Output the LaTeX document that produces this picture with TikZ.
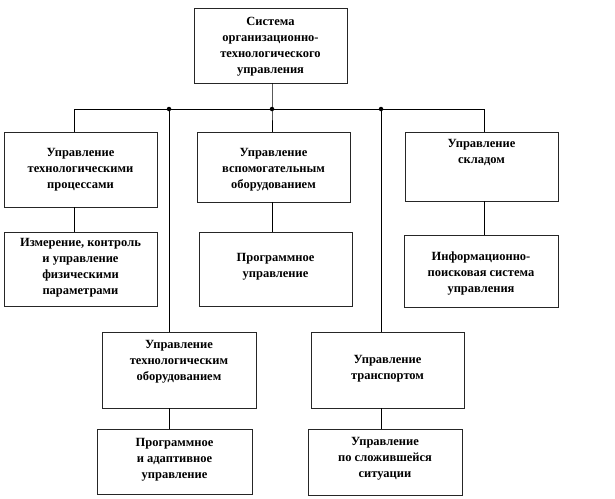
\documentclass[tikz,border=0pt]{standalone}
\usepackage{fontspec}
\setmainfont{Liberation Serif}
\tikzset{
  box/.style={draw=black!85, line width=0.8pt, inner sep=0pt, fill=white},
  txt/.style={font=\bfseries\fontsize{12.5}{16}\selectfont, align=center, inner sep=0pt},
  jdot/.style={circle, fill=black, inner sep=0pt, minimum size=4.5pt},
  conn/.style={draw=black, line width=0.8pt}
}
\begin{document}
\begin{tikzpicture}[x=1pt,y=-1pt]
\useasboundingbox (0,0) rectangle (615,498);
% boxes
\node[box, minimum width=153pt, minimum height=75pt] (top) at (270.5,45.5) {};
\node[box, minimum width=153pt, minimum height=75pt] (b1) at (80.5,169.5) {};
\node[box, minimum width=153pt, minimum height=70pt] (b2) at (273.5,167) {};
\node[box, minimum width=153pt, minimum height=69pt] (b3) at (481.5,166.5) {};
\node[box, minimum width=153pt, minimum height=74pt] (b4) at (80.5,269) {};
\node[box, minimum width=153pt, minimum height=74pt] (b5) at (275.5,269) {};
\node[box, minimum width=154pt, minimum height=72pt] (b6) at (481,271) {};
\node[box, minimum width=154pt, minimum height=76pt] (b7) at (179,370) {};
\node[box, minimum width=155pt, minimum height=65pt] (b8) at (174.5,461.5) {};
\node[box, minimum width=153pt, minimum height=76pt] (b9) at (387.5,370) {};
\node[box, minimum width=154pt, minimum height=66pt] (b10) at (385,462) {};
% texts
\node[txt] (ttop) at (270.5,47) {Система\\организационно-\\технологического\\управления};
\node[txt] (t1) at (80.5,169.5) {Управление\\технологическими\\процессами};
\node[txt] (t2) at (273.5,169.5) {Управление\\вспомогательным\\оборудованием};
\node[txt] (t3) at (481.5,152.5) {Управление\\складом};
\node[txt] (t4) at (80.5,268) {Измерение, контроль\\и управление\\физическими\\параметрами};
\node[txt] (t5) at (275.5,267) {Программное\\управление};
\node[txt] (t6) at (481,273.5) {Информационно-\\поисковая система\\управления};
\node[txt] (t7) at (179,362) {Управление\\технологическим\\оборудованием};
\node[txt] (t8) at (174.5,459.5) {Программное\\и адаптивное\\управление};
\node[txt] (t9) at (387.5,368.5) {Управление\\транспортом};
\node[txt] (t10) at (385,459) {Управление\\по сложившейся\\ситуации};
% bus
\coordinate (j1) at (74,109);
\coordinate (j2) at (169,109);
\coordinate (j3) at (272,109);
\coordinate (j4) at (381,109);
\coordinate (j5) at (484,109);
\draw[conn] (j1) -- (j5);
\draw[conn] (top.south -| j3) -- (j3) -- (b2.north -| j3);
\draw[conn] (j1) -- (b1.north -| j1);
\draw[conn] (j2) -- (b7.north -| j2);
\draw[conn] (j4) -- (b9.north -| j4);
\draw[conn] (j5) -- (b3.north -| j5);
\draw[conn] (b1.south -| j1) -- (b4.north -| j1);
\draw[conn] (b2.south -| j3) -- (b5.north -| j3);
\draw[conn] (b3.south -| j5) -- (b6.north -| j5);
\draw[conn] (b7.south -| j2) -- (b8.north -| j2);
\draw[conn] (b9.south -| j4) -- (b10.north -| j4);
\node[jdot] (d2) at (j2) {};
\node[jdot] (d3) at (j3) {};
\node[jdot] (d4) at (j4) {};
\end{tikzpicture}
\end{document}
